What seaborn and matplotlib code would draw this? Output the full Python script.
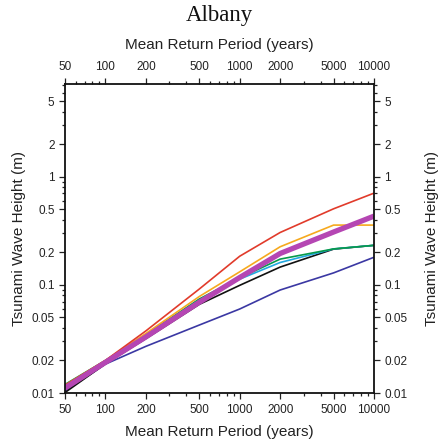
import numpy as np
import pandas as pd
import seaborn as sns
import matplotlib
matplotlib.use("Agg")
import matplotlib.pyplot as plt
from matplotlib.ticker import LogLocator, FixedLocator, FixedFormatter, NullFormatter

# Return periods (years)
periods = [50, 100, 200, 500, 1000, 2000, 5000, 10000]

# Tsunami wave height (m) per model
red_h     = [0.0118, 0.0200, 0.0375, 0.0915, 0.184, 0.305, 0.505, 0.705]
orange_h  = [0.0118, 0.0200, 0.0355, 0.0780, 0.132, 0.225, 0.357, 0.357]
green_h   = [0.0120, 0.0200, 0.0345, 0.0740, 0.116, 0.173, 0.215, 0.232]
cyan_h    = [0.0118, 0.0198, 0.0338, 0.0705, 0.113, 0.161, 0.215, 0.232]
black_h   = [0.0101, 0.0186, 0.0318, 0.0660, 0.099, 0.146, 0.214, 0.232]
blue_h    = [0.0104, 0.0185, 0.0270, 0.0425, 0.0598, 0.0896, 0.129, 0.180]
magenta_h = [0.0111, 0.0192, 0.0330, 0.0690, 0.117, 0.195, 0.308, 0.432]

x_ticks = [50, 100, 200, 500, 1000, 2000, 5000, 10000]
x_tick_labels = ["50", "100", "200", "500", "1000", "2000", "5000", "10000"]
y_ticks = [0.01, 0.02, 0.05, 0.1, 0.2, 0.5, 1, 2, 5]
y_tick_labels = ["0.01", "0.02", "0.05", "0.1", "0.2", "0.5", "1", "2", "5"]

sns.set_style("ticks")
plt.rcParams["font.family"] = ["Liberation Sans", "DejaVu Sans"]

fig = plt.figure(figsize=(4.41, 4.47), dpi=100)
ax = fig.add_axes([65 / 441, 1 - 393 / 447, 309 / 441, 309 / 447])

series = [
    (blue_h, "#3b38a3", 1.2),
    (black_h, "#111111", 1.2),
    (cyan_h, "#22a8e0", 1.2),
    (green_h, "#079a4b", 1.2),
    (orange_h, "#f6a91e", 1.2),
    (red_h, "#e13b2b", 1.2),
    (magenta_h, "#b546b3", 3.8),
]
for vals, color, lw in series:
    df = pd.DataFrame({"period": periods, "height": vals})
    sns.lineplot(data=df, x="period", y="height", color=color, linewidth=lw,
                 ax=ax, solid_capstyle="butt", solid_joinstyle="round")

ax.set_xscale("log")
ax.set_yscale("log")
ax.set_xlim(50, 10000)
ax.set_ylim(0.01, 7.2)

ax.xaxis.set_major_locator(FixedLocator(x_ticks))
ax.xaxis.set_major_formatter(FixedFormatter(x_tick_labels))
ax.xaxis.set_minor_locator(LogLocator(base=10, subs=[3, 4, 6, 7, 8, 9]))
ax.xaxis.set_minor_formatter(NullFormatter())
ax.yaxis.set_major_locator(FixedLocator(y_ticks))
ax.yaxis.set_major_formatter(FixedFormatter(y_tick_labels))
ax.yaxis.set_minor_locator(LogLocator(base=10, subs=[3, 4, 6, 7, 8, 9]))
ax.yaxis.set_minor_formatter(NullFormatter())

ax.tick_params(which="both", direction="out", top=True, right=True,
               labeltop=True, labelright=True, labelsize=8.5, colors="#222222",
               width=0.9)
ax.tick_params(which="major", length=4)
ax.tick_params(axis="x", which="major", pad=4)
ax.tick_params(axis="y", which="major", pad=3.5)
ax.tick_params(which="minor", length=2.2)

for sp in ax.spines.values():
    sp.set_linewidth(1.3)
    sp.set_color("#111111")
    sp.set_visible(True)

ax.set_xlabel("Mean Return Period (years)", fontsize=11, color="#222222", labelpad=6.5)
ax.set_ylabel("Tsunami Wave Height (m)", fontsize=11, color="#222222", labelpad=4)

# Duplicate axis titles on the top and right sides
ax.text(0.5, 1 + 39 / 309, "Mean Return Period (years)", transform=ax.transAxes,
        ha="center", va="center", fontsize=11, color="#222222")
ax.text(1 + 58 / 309, 0.5, "Tsunami Wave Height (m)", transform=ax.transAxes,
        ha="center", va="center", rotation=90, fontsize=11, color="#222222")

fig.text(219.5 / 441, 1 - 16 / 447, "Albany", ha="center", va="center",
         fontsize=16.5, family=["Liberation Serif", "DejaVu Serif"], color="#111111")

fig.savefig("out.png", dpi=100)
